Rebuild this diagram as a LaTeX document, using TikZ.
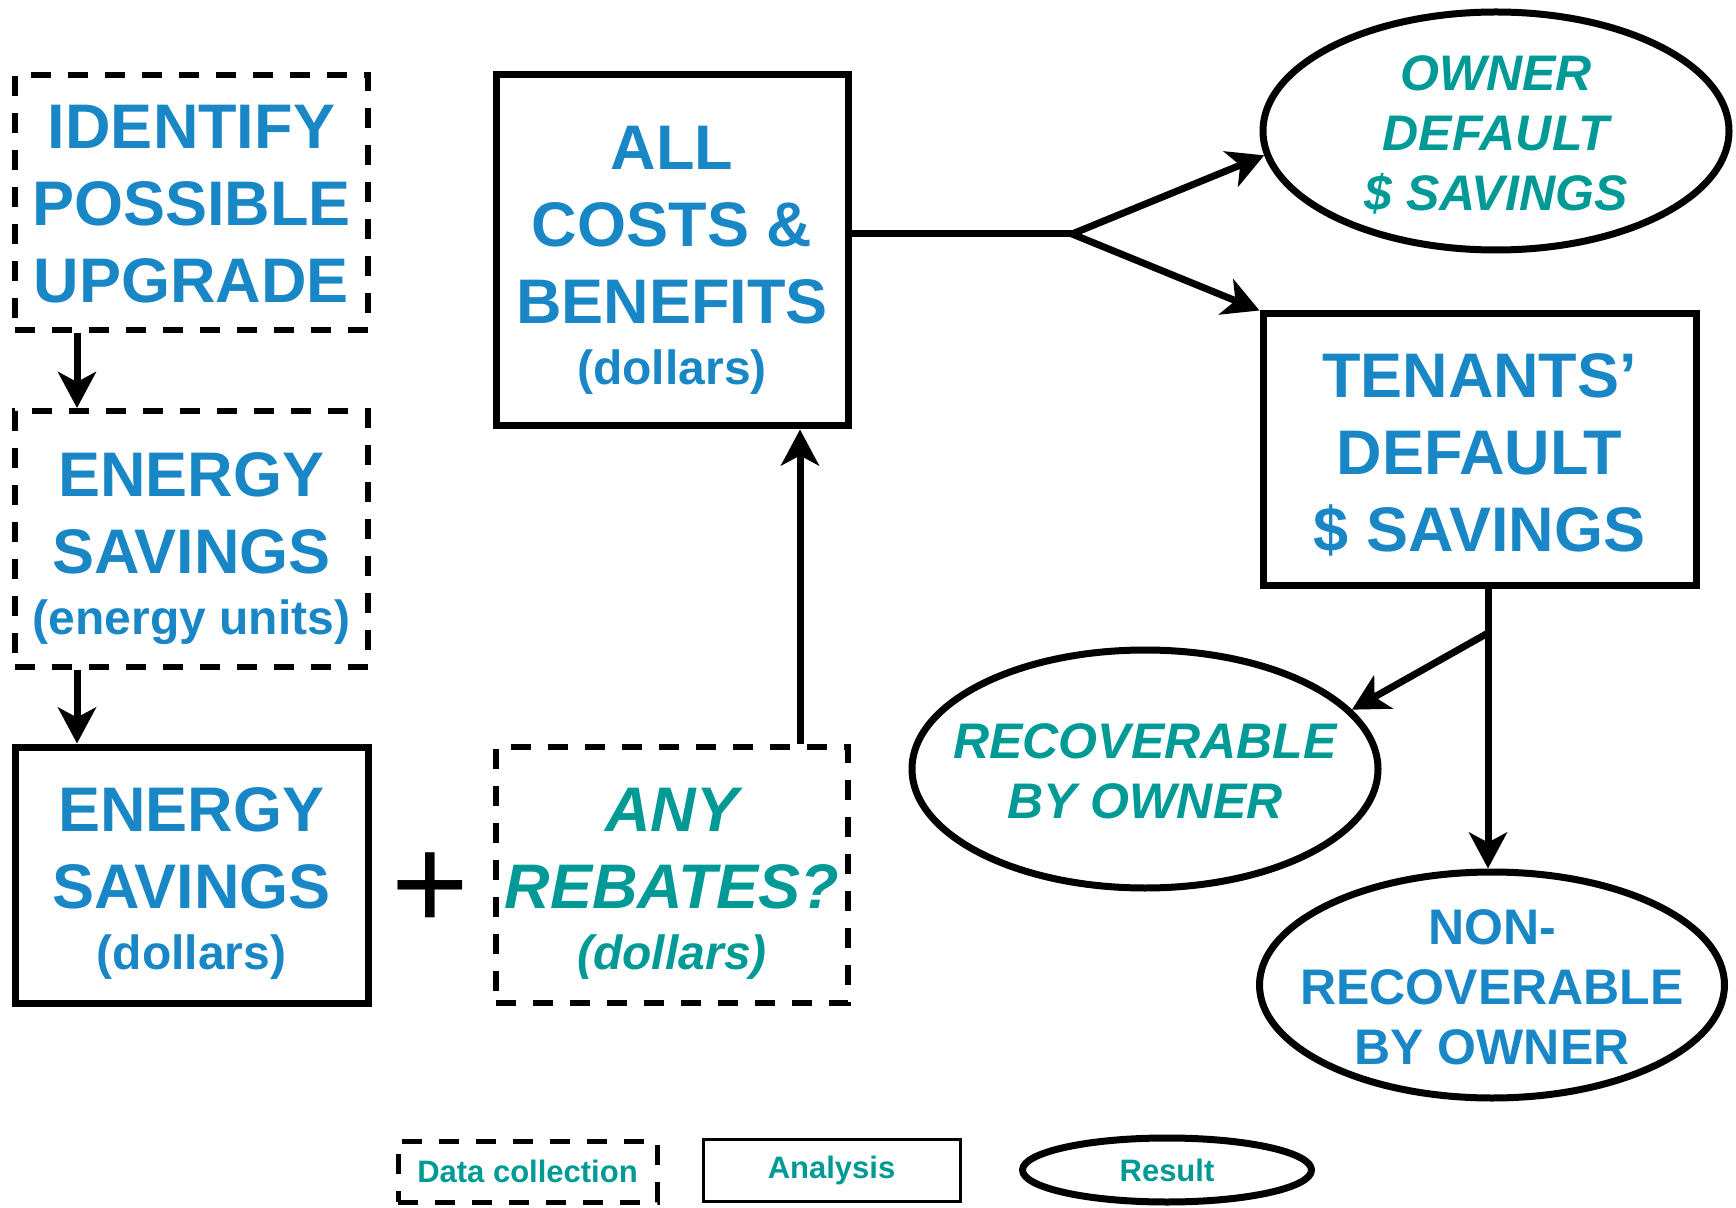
\documentclass[tikz,border=0pt]{standalone}
\usepackage{fontspec}
\setmainfont{Liberation Sans}
\usetikzlibrary{arrows.meta,shapes.geometric}
\definecolor{myblue}{HTML}{1987C6}
\definecolor{myteal}{HTML}{009A96}
\tikzset{
  base/.style={inner sep=0pt, align=center, text=myblue,
    font=\bfseries\fontsize{31.5}{38.5}\selectfont},
  collect/.style={base, draw, rectangle, line width=3pt, dash pattern=on 10pt off 8.5pt},
  analysis/.style={base, draw, rectangle, line width=3.5pt},
  result/.style={base, draw, ellipse, line width=3.5pt, inner xsep=-40pt, inner ysep=-25pt,
    font=\bfseries\fontsize{25}{30}\selectfont},
  tealit/.style={text=myteal, font=\bfseries\itshape\fontsize{25}{30}\selectfont},
  arr/.style={line width=3.5pt, -{Stealth[length=18pt,width=19pt,inset=5pt]}},
  conn/.style={line width=3.5pt},
  legtext/.style={text=myteal, font=\bfseries\fontsize{15.5}{18}\selectfont},
}
\newcommand{\smalltxt}[1]{{\fontsize{24}{28}\selectfont #1}}
\newcommand{\toplift}[1]{\rule{0pt}{#1}}
\begin{document}
\begin{tikzpicture}[x=0.5pt,y=-0.5pt]
\useasboundingbox (0,0) rectangle (1736,1208);

% left column
\node[collect, minimum width=176.5pt, minimum height=127.5pt] (idu) at (191.5,202.5)
  {\toplift{23pt}IDENTIFY\\POSSIBLE\\UPGRADE};
\node[collect, minimum width=176.5pt, minimum height=128pt] (esu) at (191.5,539)
  {\toplift{31.5pt}ENERGY\\SAVINGS\\[-8pt]\smalltxt{(energy units)}};
\node[analysis, minimum width=176.5pt, minimum height=128pt] (esd) at (191.5,875)
  {\toplift{30.4pt}ENERGY\\SAVINGS\\[-8pt]\smalltxt{(dollars)}};

% plus
\node[inner sep=0pt, font=\fontsize{66.5}{70}\selectfont] (plus) at (430,891) {+};

% middle column
\node[collect, text=myteal, font=\bfseries\itshape\fontsize{31.5}{38.5}\selectfont,
  minimum width=176pt, minimum height=128pt] (reb) at (672,875)
  {\toplift{30.4pt}ANY\\REBATES?\\[-8pt]\smalltxt{(dollars)}};
\node[analysis, minimum width=176pt, minimum height=175.5pt] (all) at (672,250.5)
  {\toplift{31.5pt}ALL\\COSTS \&\\BENEFITS\\[-8pt]\smalltxt{(dollars)}};

% right column
\node[result, tealit, minimum width=233pt, minimum height=119pt] (owner) at (1496,131)
  {\toplift{21.3pt}OWNER\\DEFAULT\\\$ SAVINGS};
\node[analysis, minimum width=216.5pt, minimum height=136pt] (ten) at (1479.5,450)
  {\toplift{27pt}TENANTS’\\DEFAULT\\\$ SAVINGS};
\node[result, tealit, minimum width=233pt, minimum height=119pt] (rec) at (1145,769)
  {\toplift{20.1pt}RECOVERABLE\\BY OWNER};
\node[result, minimum width=232.5pt, minimum height=113pt] (nonrec) at (1492,985)
  {\toplift{20.1pt}NON-\\RECOVERABLE\\BY OWNER};

% connectors
\draw[arr] ([xshift=-57.25pt]idu.south) -- ([xshift=-57.25pt]esu.north);
\draw[arr] ([xshift=-57.25pt]esu.south) -- ([xshift=-57.25pt]esd.north);
\draw[arr] ([xshift=64pt]reb.north) -- ([xshift=64pt]all.south);
\coordinate (jn) at (1072,234);
\draw[conn] (jn -| all.east) -- (jn);
\draw[arr] (jn) -- (owner.186);
\draw[arr] (jn) -- (ten.north west);
\coordinate (vx) at (1488,600);
\coordinate (br) at (1488,633);
\draw[arr] (ten.south -| vx) -- (nonrec.north -| vx);
\draw[arr] (br) -- (rec.16);

% legend
\node[collect, legtext, line width=2.5pt, minimum width=129.5pt, minimum height=30.5pt] (lgd) at (527.5,1171.5) {Data collection};
\node[base, legtext, draw, line width=1.5pt, minimum width=128.5pt, minimum height=31pt] (lga) at (831.5,1170) {Analysis};
\node[base, legtext, draw, ellipse, line width=3.5pt, inner xsep=-20pt, inner ysep=-5pt, minimum width=144.5pt, minimum height=32pt] (lgr) at (1167,1170) {Result};
\end{tikzpicture}
\end{document}
